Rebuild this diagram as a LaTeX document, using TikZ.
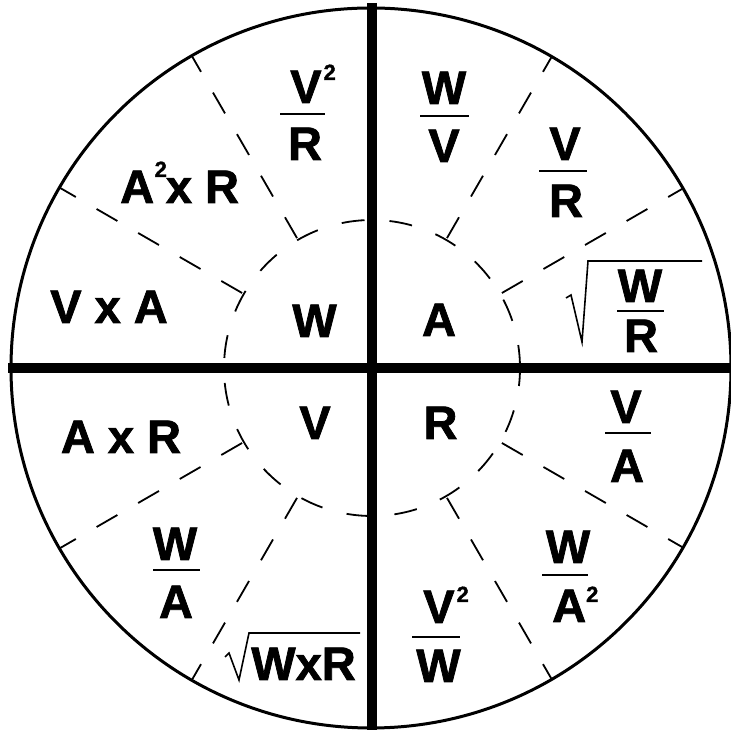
\documentclass[tikz,border=0pt]{standalone}
\usepackage{fontspec}
\setmainfont{Liberation Sans}[BoldFeatures={FakeBold=1.6}]
\usetikzlibrary{calc}
\newcommand\supr[2]{\raisebox{#1}{\fontsize{22}{22}\selectfont #2}}
\begin{document}
\begin{tikzpicture}[x=1pt,y=1pt,
  lbl/.style={font=\fontsize{47}{47}\selectfont\bfseries, inner sep=0pt, anchor=base},
  lblw/.style={lbl, anchor=base west},
  dashline/.style={line width=1.8pt, dash pattern=on 24pt off 24pt, dash phase=6pt},
  innerdash/.style={line width=1.8pt, dash pattern=on 23pt off 25pt},
  fbar/.style={line width=2pt},
  rad/.style={line width=1.6pt, line join=miter},
  thickline/.style={line width=10pt}]
\useasboundingbox (0,0) rectangle (731,730);
\coordinate (C) at (372,362);
\coordinate (O) at (371,362);
% outer circle
\draw[line width=3pt] (O) circle[radius=360];
% inner dashed circle
\draw[innerdash] ($(C)+(148,0)$) arc[start angle=0,end angle=360,radius=148];
% radial dashed lines
\foreach \a in {30,60,120,150,210,240,300,330}
  \draw[dashline] ($(C)+(\a:360)$) -- ($(C)+(\a:148)$);
% thick cross
\coordinate (Vt) at (371.5,727);
\coordinate (Vb) at (371.5,0);
\coordinate (Hl) at (8,362);
\coordinate (Hr) at (731,362);
\draw[thickline] (Vt) -- (Vb);
\draw[thickline] (Hl) -- (Hr);
% centre labels
\node[lbl] (w) at (314.5,393) {W};
\node[lbl] (a) at (439,394) {A};
\node[lbl] (v) at (315,291) {V};
\node[lbl] (r) at (440.5,291) {R};
% upper left
\node[lbl] (vxa) at (109,407) {V x A};
\node[lblw] (a2xr) at (120,527) {A\kern0.5pt\supr{26pt}{2}\kern-1pt x R};
\node[lblw] (ulnum) at (290,627) {V\kern2pt\supr{23pt}{2}};
\draw[fbar] (280,616) -- (325,616);
\node[lbl] (ulden) at (305,570) {R};
% upper right
\node[lbl] (wvnum) at (444,626) {W};
\draw[fbar] (420,614) -- (469,614);
\node[lbl] (wvden) at (444,568) {V};
\node[lbl] (vrnum) at (565,570) {V};
\draw[fbar] (539,559) -- (587,559);
\node[lbl] (vrden) at (566,513) {R};
\node[lbl] (wrnum) at (640,428) {W};
\draw[fbar] (617,419) -- (664,419);
\node[lbl] (wrden) at (641,378) {R};
\draw[rad] (566,432) -- (571,435) -- (582,388) -- (588,469) -- (702,469);
% lower left
\node[lbl] (axr) at (121,277) {A x R};
\node[lbl] (wanum) at (175,170) {W};
\draw[fbar] (153,160) -- (200,160);
\node[lbl] (waden) at (176,112) {A};
\node[lbl] (wxr) at (303.5,50) {WxR};
\draw[rad] (225,73) -- (229,77) -- (239,50) -- (249,97) -- (360,97);
% lower right
\node[lbl] (vanum) at (626,307) {V};
\draw[fbar] (605,297) -- (651,297);
\node[lbl] (vaden) at (627,248) {A};
\node[lbl] (wa2num) at (568,167) {W};
\draw[fbar] (542,155) -- (588,155);
\node[lblw] (wa2den) at (552,108) {A\supr{20pt}{2}};
\node[lblw] (v2wnum) at (423,107) {V\kern2pt\supr{21pt}{2}};
\draw[fbar] (412,93) -- (460,93);
\node[lbl] (v2wden) at (438.5,48) {W};
\end{tikzpicture}
\end{document}
